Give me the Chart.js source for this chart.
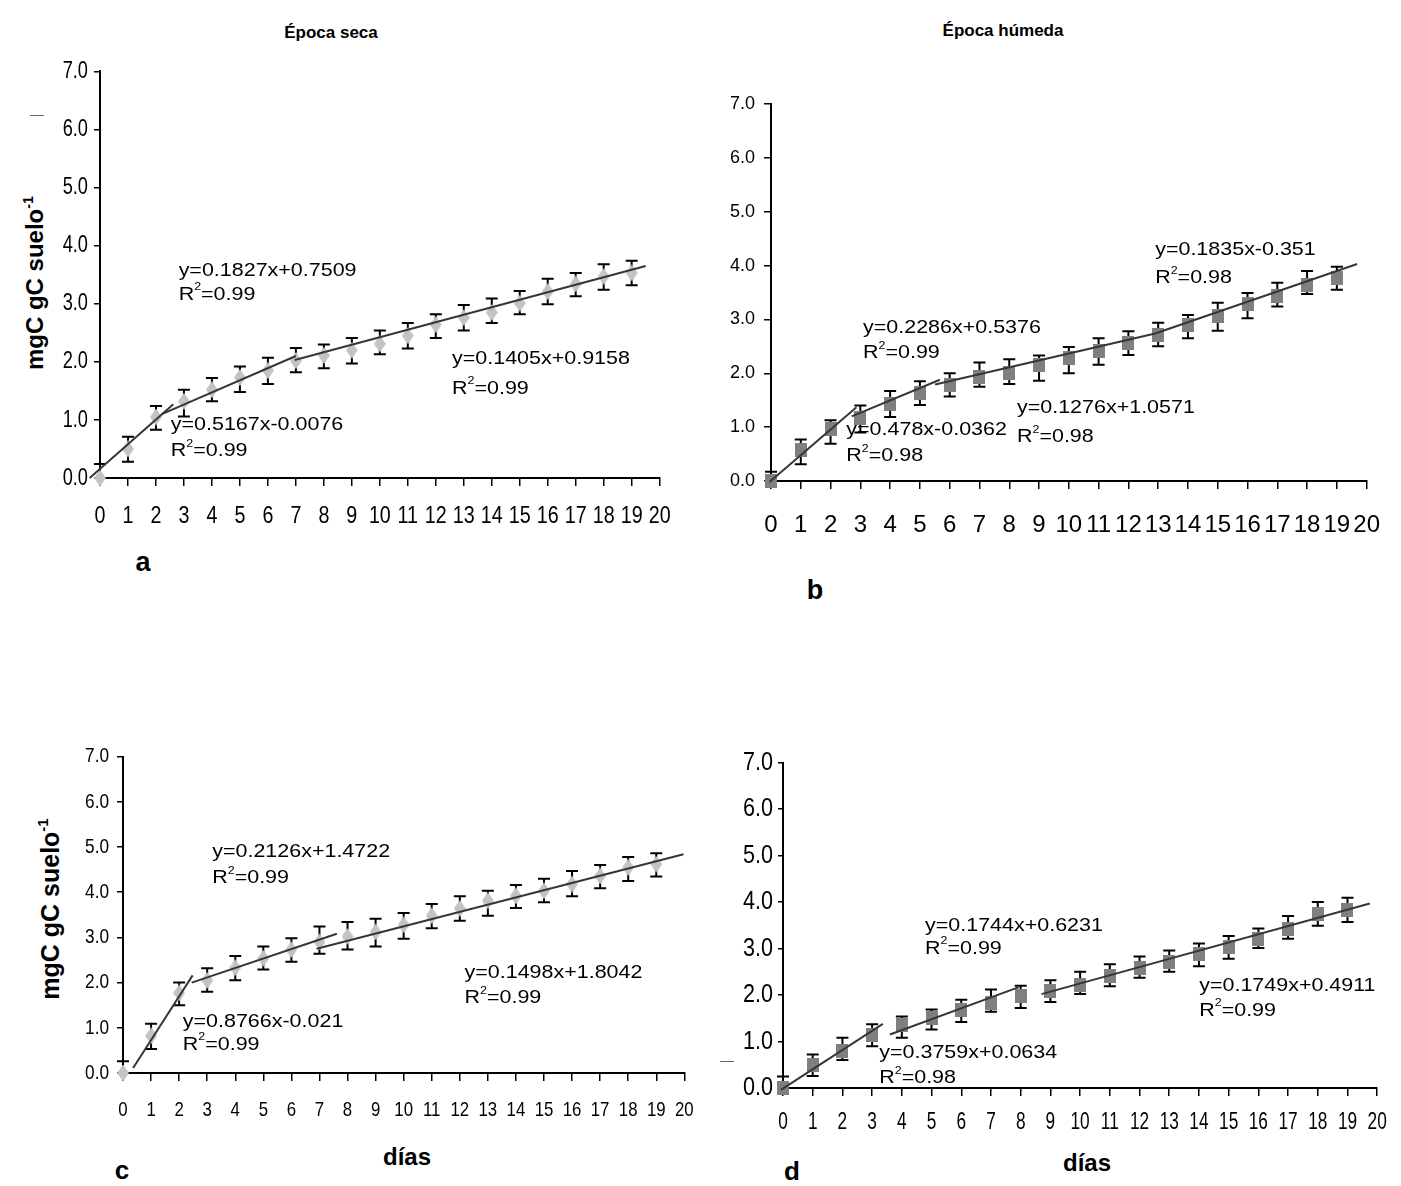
<!DOCTYPE html>
<html><head><meta charset="utf-8">
<script src="https://cdn.jsdelivr.net/npm/chart.js@4.4.0/dist/chart.umd.min.js"></script>
<style>
html,body{margin:0;padding:0;background:#fff;}
body{width:1401px;height:1186px;position:relative;overflow:hidden;font-family:"Liberation Sans",Arial,sans-serif;color:#000;}
canvas{position:absolute;}
.t{position:absolute;white-space:nowrap;transform:translate(-50%,-50%);line-height:1;}
.b{font-weight:bold;}
.yl{position:absolute;white-space:nowrap;font-weight:bold;line-height:1;transform:translate(-50%,-50%) rotate(-90deg);}
.yl sup{font-size:0.6em;vertical-align:0.7em;line-height:0;}
.dash{position:absolute;height:1px;background:#666;}
</style></head><body>

<div class="t b" style="left:331px;top:32px;font-size:17px;">Época seca</div>
<div class="t b" style="left:1003px;top:30px;font-size:17px;">Época húmeda</div>
<div class="yl" style="left:35px;top:283px;font-size:24px;">mgC gC suelo<sup>-1</sup></div>
<div class="yl" style="left:50px;top:909px;font-size:25px;">mgC gC suelo<sup>-1</sup></div>
<div class="t b" style="left:143px;top:562px;font-size:27px;">a</div>
<div class="t b" style="left:815px;top:590px;font-size:27px;">b</div>
<div class="t b" style="left:122px;top:1170px;font-size:26px;">c</div>
<div class="t b" style="left:792px;top:1171px;font-size:26px;">d</div>
<div class="t b" style="left:407px;top:1157px;font-size:24px;">días</div>
<div class="t b" style="left:1087px;top:1163px;font-size:24px;">días</div>
<div class="dash" style="left:30px;top:115px;width:14px;"></div>
<div class="dash" style="left:720px;top:1061px;width:14px;"></div>

<canvas id="ca"></canvas>
<canvas id="cb"></canvas>
<canvas id="cc"></canvas>
<canvas id="cd"></canvas>

<script>
// ---------------- DATA ----------------
const days = [0,1,2,3,4,5,6,7,8,9,10,11,12,13,14,15,16,17,18,19];
const xTickLabels = [0,1,2,3,4,5,6,7,8,9,10,11,12,13,14,15,16,17,18,19,20];
const yTickLabels = ["0.0","1.0","2.0","3.0","4.0","5.0","6.0","7.0"];

// Panel a – Época seca (diamonds)
const aMean = [0.00,0.50,1.05,1.32,1.52,1.73,1.85,2.02,2.11,2.20,2.31,2.45,2.64,2.76,2.85,3.01,3.21,3.34,3.47,3.53];
const aHigh = [0.24,0.71,1.24,1.52,1.72,1.92,2.07,2.24,2.30,2.41,2.54,2.67,2.82,2.98,3.09,3.22,3.43,3.53,3.68,3.74];
const aLow  = [0.00,0.28,0.83,1.06,1.32,1.48,1.62,1.82,1.89,1.97,2.13,2.23,2.41,2.54,2.67,2.82,2.99,3.13,3.24,3.32];
const aTrend = [[-0.37,0.00,2.62,1.27],[2.21,1.10,7.00,2.10],[6.96,2.03,19.50,3.65]];

// Panel b – Época húmeda (squares)
const bMean = [0.00,0.58,0.96,1.17,1.43,1.64,1.78,1.94,2.00,2.15,2.28,2.42,2.56,2.71,2.89,3.07,3.28,3.44,3.63,3.77];
const bHigh = [0.17,0.77,1.13,1.40,1.67,1.85,2.00,2.20,2.26,2.33,2.49,2.65,2.78,2.94,3.08,3.31,3.49,3.68,3.90,3.98];
const bLow  = [0.00,0.31,0.69,0.90,1.19,1.41,1.57,1.75,1.80,1.86,2.00,2.16,2.34,2.50,2.65,2.79,3.02,3.24,3.47,3.55];
const bTrend = [[-0.05,-0.02,2.87,1.37],[2.71,1.20,5.67,1.88],[5.51,1.79,12.9,2.74],[12.9,2.74,19.68,4.03]];

// Panel c – Época seca (diamonds)
const cMean = [0.00,0.82,1.77,2.05,2.33,2.54,2.73,2.90,3.02,3.12,3.28,3.48,3.64,3.81,3.92,4.03,4.18,4.36,4.55,4.62];
const cHigh = [0.26,1.09,2.00,2.32,2.59,2.80,2.98,3.24,3.34,3.41,3.54,3.74,3.91,4.03,4.16,4.30,4.47,4.60,4.78,4.86];
const cLow  = [0.00,0.53,1.50,1.80,2.05,2.29,2.46,2.64,2.73,2.80,2.97,3.20,3.37,3.48,3.65,3.78,3.91,4.09,4.25,4.35];
const cTrend = [[0.36,0.11,2.48,2.16],[2.45,2.00,7.62,3.08],[6.90,2.75,19.97,4.84]];

// Panel d – Época húmeda (squares)
const dMean = [0.00,0.49,0.80,1.13,1.35,1.51,1.67,1.83,1.97,2.09,2.22,2.42,2.58,2.71,2.88,3.03,3.21,3.41,3.75,3.82];
const dHigh = [0.25,0.72,1.08,1.37,1.54,1.69,1.90,2.12,2.20,2.32,2.50,2.66,2.83,2.96,3.11,3.27,3.43,3.70,4.00,4.09];
const dLow  = [0.00,0.26,0.60,0.90,1.08,1.26,1.42,1.64,1.72,1.85,2.02,2.19,2.37,2.50,2.62,2.78,3.01,3.21,3.49,3.57];
const dTrend = [[-0.07,-0.04,3.36,1.38],[3.60,1.15,7.94,2.17],[8.70,2.02,19.75,3.97]];

// Regression labels (text)
const aEquations = ["y=0.1827x+0.7509","R^2=0.99","y=0.5167x-0.0076","R^2=0.99","y=0.1405x+0.9158","R^2=0.99"];
const bEquations = ["y=0.1835x-0.351","R^2=0.98","y=0.2286x+0.5376","R^2=0.99","y=0.478x-0.0362","R^2=0.98","y=0.1276x+1.0571","R^2=0.98"];
const cEquations = ["y=0.2126x+1.4722","R^2=0.99","y=0.8766x-0.021","R^2=0.99","y=0.1498x+1.8042","R^2=0.99"];
const dEquations = ["y=0.1744x+0.6231","R^2=0.99","y=0.3759x+0.0634","R^2=0.98","y=0.1749x+0.4911","R^2=0.99"];

// ---------------- LAYOUT (label anchors in axis units, styles) ----------------
const aNotePos = [[2.81,3.56],[2.81,3.16],[2.53,0.91],[2.53,0.47],[12.58,2.05],[12.58,1.54]];
const bNotePos = [[12.9,4.29],[12.9,3.77],[3.09,2.84],[3.09,2.38],[2.53,0.95],[2.53,0.46],[8.26,1.36],[8.26,0.82]];
const cNotePos = [[3.18,4.90],[3.18,4.32],[2.13,1.13],[2.13,0.63],[12.17,2.21],[12.17,1.66]];
const dNotePos = [[4.78,3.50],[4.78,3.00],[3.24,0.75],[3.24,0.21],[14.01,2.19],[14.01,1.67]];

const REG = "'Liberation Sans',Arial,sans-serif";

function diamondImg(w,h,color){
  const c=document.createElement('canvas');c.width=w;c.height=h;
  const g=c.getContext('2d');g.fillStyle=color;g.beginPath();
  g.moveTo(w/2,0);g.lineTo(w,h/2);g.lineTo(w/2,h);g.lineTo(0,h/2);g.closePath();g.fill();
  return c;
}
function squareImg(w,h,color){
  const c=document.createElement('canvas');c.width=w;c.height=h;
  const g=c.getContext('2d');g.fillStyle=color;g.fillRect(0,0,w,h);return c;
}

function drawRich(ctx,text,x,y,size){
  ctx.save();
  ctx.translate(x,y);
  ctx.scale(1.13,1);
  ctx.fillStyle='#000';
  ctx.textBaseline='middle';
  ctx.textAlign='left';
  let cx=0;
  const parts = text.split('^');
  ctx.font = size+'px '+REG;
  ctx.fillText(parts[0],cx,0);
  cx += ctx.measureText(parts[0]).width;
  if(parts.length>1){
    const sup = parts[1].charAt(0), rest = parts[1].slice(1);
    ctx.font = Math.round(size*0.6)+'px '+REG;
    ctx.fillText(sup,cx,-size*0.38);
    cx += ctx.measureText(sup).width;
    ctx.font = size+'px '+REG;
    ctx.fillText(rest,cx,0);
  }
  ctx.restore();
}

function makePanel(id, P){
  const yw=75, pt=20, pr=20, xh=75;
  const cv=document.getElementById(id);
  const W = P.R-P.L+yw+pr, H = P.B-P.T+pt+xh;
  cv.width=W; cv.height=H;
  cv.style.left=(P.L-yw)+'px'; cv.style.top=(P.T-pt)+'px';
  cv.style.width=W+'px'; cv.style.height=H+'px';

  // horizontal condensing of the axis tick labels (narrow typeface look)
  const narrowPlugin = {
    id:'narrow_'+id,
    beforeDraw(chart){
      const ctx=chart.ctx;
      if(!ctx.__origFill) ctx.__origFill = ctx.fillText;
      const orig = ctx.__origFill;
      ctx.fillText = function(t,x,y){
        const k = (this.textAlign==='right') ? P.kY : P.kX;
        this.save(); this.translate(x,y); this.scale(k,1);
        orig.call(this,t,0,0);
        this.restore();
      };
    },
    beforeDatasetsDraw(chart){
      const ctx=chart.ctx;
      if(ctx.__origFill) ctx.fillText = ctx.__origFill;
    }
  };
  const errPlugin = {
    id:'err_'+id,
    beforeDatasetsDraw(chart){
      const {ctx,scales:{x,y}}=chart;
      ctx.save(); ctx.strokeStyle='#000'; ctx.lineWidth=2;
      for(let i=0;i<days.length;i++){
        const px=x.getPixelForValue(days[i]);
        const yh=y.getPixelForValue(P.high[i]);
        const yl=y.getPixelForValue(P.low[i]);
        ctx.beginPath();
        ctx.moveTo(px,yh); ctx.lineTo(px,yl);
        ctx.moveTo(px-6,yh); ctx.lineTo(px+6,yh);
        if(P.low[i]<P.mean[i]){ ctx.moveTo(px-6,yl); ctx.lineTo(px+6,yl); }
        ctx.stroke();
      }
      ctx.restore();
    }
  };
  const notePlugin = {
    id:'notes_'+id,
    afterDraw(chart){
      const {ctx,scales:{x,y}}=chart;
      P.notes.forEach((t,i)=>{
        drawRich(ctx,t,x.getPixelForValue(P.notePos[i][0]),y.getPixelForValue(P.notePos[i][1]),19);
      });
    }
  };

  const datasets=[{
    data: days.map((d,i)=>({x:d,y:P.mean[i]})),
    pointStyle:P.marker, pointRadius:7, showLine:false, order:2, clip:false
  }];
  P.trend.forEach(t=>datasets.push({
    data:[{x:t[0],y:t[1]},{x:t[2],y:t[3]}],
    showLine:true, borderColor:'#363636', borderWidth:2, pointRadius:0, order:1, clip:false, tension:0
  }));

  new Chart(cv,{
    type:'scatter',
    data:{datasets},
    options:{
      responsive:false, animation:false, devicePixelRatio:1, events:[],
      layout:{padding:{left:0,top:pt,right:pr,bottom:0}},
      plugins:{legend:{display:false},tooltip:{enabled:false}},
      scales:{
        x:{type:'linear',min:0,max:20,
          afterFit:s=>{s.height=xh;},
          afterBuildTicks:s=>{s.ticks=xTickLabels.map(v=>({value:v}));},
          ticks:{autoSkip:false,maxRotation:0,minRotation:0,color:'#000',padding:P.xPad,font:P.xFont,
            callback:v=>String(v)},
          grid:{drawOnChartArea:false,drawTicks:true,tickLength:8,color:'#000',lineWidth:1.5},
          border:{display:true,color:'#000',width:2}},
        y:{type:'linear',min:0,max:7,
          afterFit:s=>{s.width=yw;},
          afterBuildTicks:s=>{s.ticks=yTickLabels.map(v=>({value:parseFloat(v)}));},
          ticks:{color:'#000',padding:P.yPad,font:P.yFont,
            callback:(v)=>yTickLabels[Math.round(v)]},
          grid:{drawOnChartArea:false,drawTicks:true,tickLength:P.yTick,color:'#000',lineWidth:1.5},
          border:{display:true,color:'#000',width:2}}
      }
    },
    plugins:[narrowPlugin,errPlugin,notePlugin]
  });
}

const dia = diamondImg(12,17,'#c3c3c3');
const sq  = squareImg(12,14,'#7f7f7f');

makePanel('ca',{L:100,T:71,R:669,B:478,mean:aMean,high:aHigh,low:aLow,trend:aTrend,marker:dia,
  notes:aEquations,notePos:aNotePos,xFont:{family:REG,size:24},xPad:16,yFont:{family:REG,size:24},yPad:6,yTick:6,kX:0.82,kY:0.76});
makePanel('cb',{L:771,T:104,R:1382,B:481,mean:bMean,high:bHigh,low:bLow,trend:bTrend,marker:sq,
  notes:bEquations,notePos:bNotePos,xFont:{family:REG,size:24},xPad:22,yFont:{family:REG,size:18},yPad:9,yTick:7,kX:1,kY:1});
makePanel('cc',{L:123,T:756,R:693,B:1073,mean:cMean,high:cHigh,low:cLow,trend:cTrend,marker:dia,
  notes:cEquations,notePos:cNotePos,xFont:{family:REG,size:21},xPad:17,yFont:{family:REG,size:21},yPad:8,yTick:6,kX:0.8,kY:0.82});
makePanel('cd',{L:783,T:762,R:1383,B:1088,mean:dMean,high:dHigh,low:dLow,trend:dTrend,marker:sq,
  notes:dEquations,notePos:dNotePos,xFont:{family:REG,size:23},xPad:13,yFont:{family:REG,size:26},yPad:5,yTick:5,kX:0.75,kY:0.83});
</script>
</body></html>
